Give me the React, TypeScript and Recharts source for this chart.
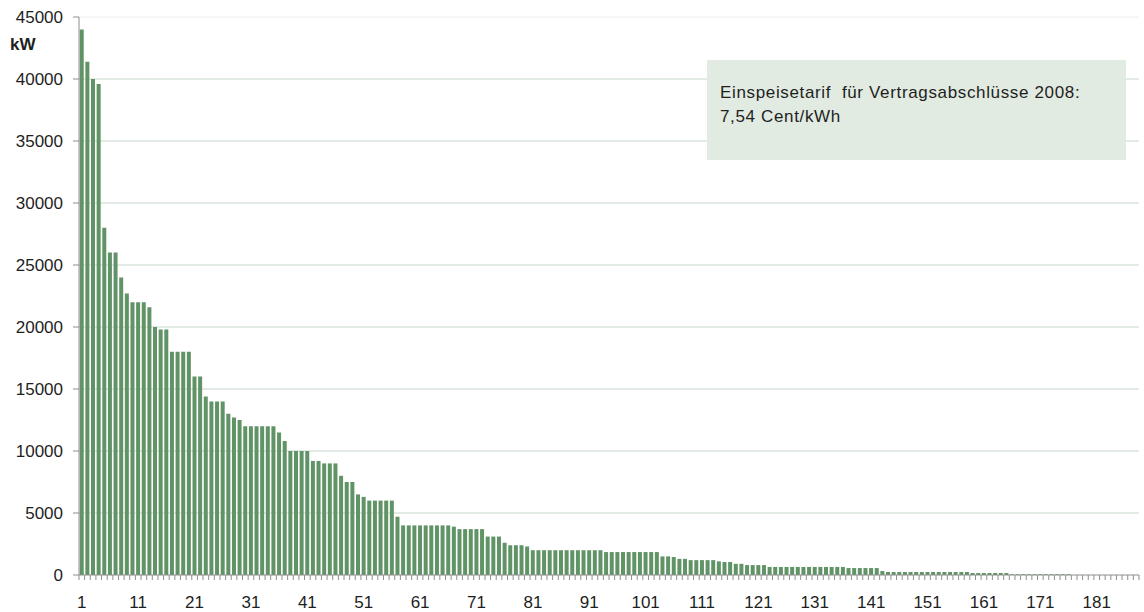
import { Bar, BarChart, CartesianGrid, ReferenceLine, XAxis, YAxis } from 'recharts'

// Anlagenleistung je Anlage, absteigend sortiert (kW)
const VALUES = [
  44000, 41400, 40000, 39600, 28000, 26000, 26000, 24000, 22700, 22000,
  22000, 22000, 21600, 20000, 19800, 19800, 18000, 18000, 18000, 18000,
  16000, 16000, 14400, 14000, 14000, 14000, 13000, 12700, 12500, 12000,
  12000, 12000, 12000, 12000, 12000, 11500, 10800, 10000, 10000, 10000,
  10000, 9200, 9200, 9000, 9000, 9000, 8000, 7500, 7500, 6500,
  6300, 6000, 6000, 6000, 6000, 6000, 4700, 4000, 4000, 4000,
  4000, 4000, 4000, 4000, 4000, 4000, 3900, 3700, 3700, 3700,
  3700, 3700, 3100, 3100, 3100, 2600, 2400, 2400, 2400, 2300,
  2000, 2000, 2000, 2000, 2000, 2000, 2000, 2000, 2000, 2000,
  2000, 2000, 2000, 1850, 1850, 1850, 1850, 1850, 1850, 1850,
  1850, 1850, 1850, 1500, 1500, 1450, 1300, 1300, 1200, 1200,
  1200, 1200, 1200, 1100, 1050, 1050, 900, 900, 800, 800,
  800, 800, 650, 650, 650, 650, 650, 650, 650, 650,
  650, 650, 650, 650, 650, 650, 560, 560, 560, 560,
  560, 560, 320, 240, 240, 240, 240, 240, 240, 240,
  240, 240, 240, 240, 240, 240, 240, 240, 160, 160,
  160, 160, 160, 160, 160, 60, 60, 60, 60, 60,
  60, 60, 60, 60, 60, 60, 0, 0, 0, 0,
  0, 0, 0, 0, 0, 0, 0, 0,
]

// Kategorien 1..n, beschriftet wird nur jede zehnte
const CATEGORIES = VALUES.map((_, i) => String(i + 1))
const X_LABELS = ['1', '11', '21', '31', '41', '51', '61', '71', '81', '91',
  '101', '111', '121', '131', '141', '151', '161', '171', '181']
const Y_TICKS = [0, 5000, 10000, 15000, 20000, 25000, 30000, 35000, 40000, 45000]
const GRID_LINES = [5000, 10000, 15000, 20000, 25000, 30000, 35000, 40000]

const NOTE_LINES = ['Einspeisetarif  für Vertragsabschlüsse 2008:', '7,54 Cent/kWh']

const data = CATEGORIES.map((c, i) => ({ nr: c, kw: VALUES[i] }))

const W = 1144
const H = 612
const MARGIN = { top: 17, right: 5, left: 0, bottom: 0 }
const Y_W = 79
const PLOT_W = W - MARGIN.left - MARGIN.right - Y_W
const BAND = PLOT_W / CATEGORIES.length
const FONT = '"Liberation Sans", Arial, Helvetica, sans-serif'
const TICK_GRAY = '#8e8e8e'
const TEXT = '#1e1e1e'

// Excel-artig: Teilstriche zwischen den Kategorien, Beschriftung mittig
function XTick(props: any) {
  const { x, y, payload, index } = props
  const left = x - BAND / 2
  return (
    <g>
      <line x1={left} x2={left} y1={y} y2={y + 5} stroke={TICK_GRAY} />
      {index === CATEGORIES.length - 1 && (
        <line x1={x + BAND / 2} x2={x + BAND / 2} y1={y} y2={y + 5} stroke={TICK_GRAY} />
      )}
      {X_LABELS.includes(payload.value) && (
        <text x={x} y={y + 32.5} textAnchor="middle" fontSize={17} fill={TEXT} fontFamily={FONT}>
          {payload.value}
        </text>
      )}
    </g>
  )
}

export default function App() {
  return (
    <div style={{ position: 'absolute', left: 0, top: 0, width: W, height: H, fontFamily: FONT, background: '#fff' }}>
      <BarChart width={W} height={H} data={data} margin={MARGIN} barCategoryGap="13%">
        <CartesianGrid vertical={false} horizontalValues={GRID_LINES} stroke="#c6d8c8" />
        <ReferenceLine y={45000} stroke="#eeeeee" />
        <XAxis
          dataKey="nr"
          interval={0}
          height={37}
          tickSize={0}
          tickMargin={0}
          tickLine={false}
          axisLine={{ stroke: TICK_GRAY }}
          tick={<XTick />}
        />
        <YAxis
          domain={[0, 45000]}
          ticks={Y_TICKS}
          width={Y_W}
          tickSize={6}
          tickMargin={10}
          axisLine={{ stroke: TICK_GRAY }}
          tickLine={{ stroke: TICK_GRAY }}
          tick={{ fontSize: 17, fill: TEXT, fontFamily: FONT }}
        />
        <Bar dataKey="kw" fill="#609365" isAnimationActive={false} />
      </BarChart>
      <div style={{ position: 'absolute', left: 10, top: 36, fontSize: 17, lineHeight: '17px', fontWeight: 'bold', color: TEXT }}>
        kW
      </div>
      <div
        style={{
          position: 'absolute',
          left: 707,
          top: 60,
          width: 419,
          height: 100,
          background: '#e1ebe1',
          boxSizing: 'border-box',
          padding: '21px 0 0 13px',
          fontSize: 17,
          lineHeight: '24px',
          letterSpacing: '0.65px',
          color: TEXT,
          whiteSpace: 'pre',
        }}
      >
        {NOTE_LINES.map((l) => (
          <div key={l}>{l}</div>
        ))}
      </div>
    </div>
  )
}
